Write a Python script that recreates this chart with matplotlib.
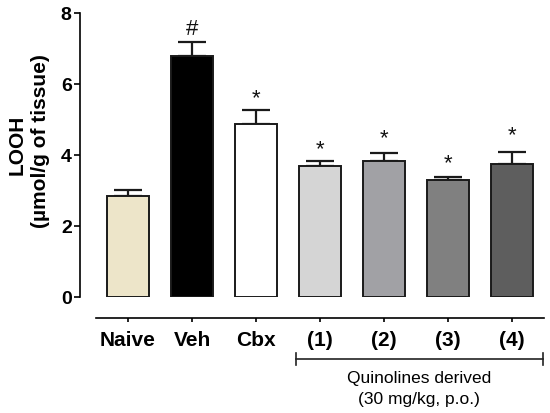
import matplotlib
matplotlib.use("Agg")
import matplotlib.pyplot as plt
import matplotlib.transforms as mtransforms

categories = ["Naive", "Veh", "Cbx", "(1)", "(2)", "(3)", "(4)"]
means = [2.85, 6.80, 4.86, 3.70, 3.83, 3.30, 3.76]
sems = [0.17, 0.38, 0.42, 0.13, 0.22, 0.09, 0.32]
marks = ["", "#", "*", "*", "*", "*", "*"]
mark_y = [None, 7.55, 5.62, 4.18, 4.48, 3.78, 4.58]
colors = ["#ede5c9", "#000000", "#ffffff", "#d5d5d5", "#a1a1a5", "#808080", "#5e5e5e"]

plt.rcParams['font.family'] = ['Liberation Sans', 'DejaVu Sans']

fig = plt.figure(figsize=(5.5, 4.14), dpi=100)
W, H = 550, 414
ax = fig.add_axes([80 / W, 1 - 298 / H, (544 - 80) / W, (298 - 14) / H])

ax.spines["top"].set_visible(False)
ax.spines["right"].set_visible(False)
ax.spines["left"].set_linewidth(1.2)
ax.spines["bottom"].set_linewidth(1.2)
ax.spines["bottom"].set_position(("outward", 21 * 72 / 100))

x = list(range(len(categories)))
ax.bar(x, means, width=0.66, color=colors, edgecolor="#1a1a1a", linewidth=1.4, zorder=2)
ax.errorbar(x, means, yerr=[[0] * len(sems), sems], fmt="none", ecolor="#1a1a1a",
            elinewidth=1.6, capsize=10, capthick=1.6, zorder=1)

for xi, m, my in zip(x, marks, mark_y):
    if m:
        ax.text(xi, my, m, ha="center", va="center",
                fontsize=16 if m == "#" else 16, color="#111111")

ax.set_xlim(-0.75, 6.5)
ax.set_ylim(0, 8)
ax.spines["bottom"].set_bounds(-0.5, 6.5)
ax.set_yticks([0, 2, 4, 6, 8])
ax.set_yticklabels(["0", "2", "4", "6", "8"], fontsize=14, fontweight="bold")
ax.set_xticks(x)
ax.set_xticklabels(categories, fontsize=15, fontweight="bold")
ax.tick_params(axis="y", length=4, width=1.2, pad=2)
ax.tick_params(axis="x", length=3, width=1.2, pad=6)

fig.text(17 / W, 1 - 145 / H, "LOOH", rotation=90, ha="center", va="center",
         fontsize=15, fontweight="bold")
fig.text(41 / W, 1 - 141 / H, "(µmol/g of tissue)", rotation=90, ha="center", va="center",
         fontsize=15, fontweight="bold")

# bracket for quinolines
trans = mtransforms.blended_transform_factory(ax.transData, fig.transFigure)
bx0, bx1 = 2.625, 6.48
yb = 1 - 360 / H
ax.plot([bx0, bx1], [yb, yb], transform=trans, color="#222222", lw=1.2, clip_on=False)
for bx in (bx0, bx1):
    ax.plot([bx, bx], [yb - 6 / H, yb + 6 / H], transform=trans, color="#222222",
            lw=1.2, clip_on=False)
ax.text((bx0 + bx1) / 2, 1 - 379 / H, "Quinolines derived", transform=trans,
        ha="center", va="center", fontsize=12.5)
ax.text((bx0 + bx1) / 2, 1 - 400 / H, "(30 mg/kg, p.o.)", transform=trans,
        ha="center", va="center", fontsize=12.5)

fig.savefig("out.png", dpi=100)
